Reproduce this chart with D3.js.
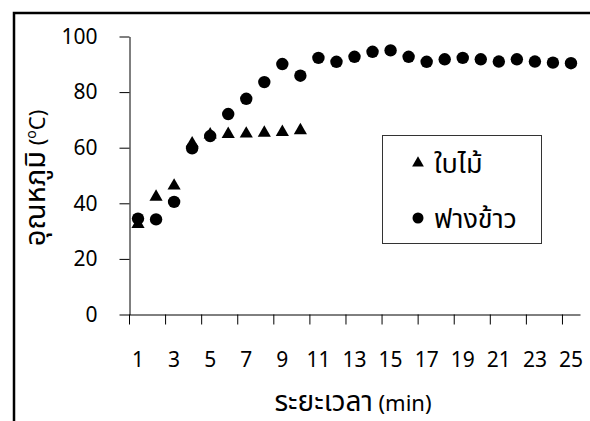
<!DOCTYPE html>
<html>
<head>
<meta charset="utf-8">
<script src="https://cdn.jsdelivr.net/npm/d3@7"></script>
<style>
  body { margin: 0; background: #fff; }
  svg text { font-family: Tahoma, "Noto Sans", "Noto Sans Thai", sans-serif; fill: #000; }
</style>
</head>
<body>
<div id="chart"></div>
<script>
// data
var minutes = d3.range(1, 26);
var leafMinutes = d3.range(1, 11);
var leafTemp = [32.5, 42.3, 46.3, 61.5, 64.7, 64.9, 65, 65.3, 65.6, 66.2];
var strawTemp = [34.5, 34.2, 40.5, 59.8, 64.2, 72.1, 77.6, 83.6, 90.1, 85.9,
                 92.3, 90.9, 92.7, 94.5, 95, 92.7, 90.9, 91.8, 92.3, 91.8,
                 91, 91.8, 91, 90.6, 90.4];
var yTicks = [0, 20, 40, 60, 80, 100];
var xLabels = d3.range(1, 26, 2);
var seriesNames = ["ใบไม้", "ฟางข้าว"];

var svgWidth = 590;
var svgHeight = 421;

var svg = d3.select("#chart")
  .append("svg")
  .attr("width", svgWidth)
  .attr("height", svgHeight);

// outer frame (runs off the right and bottom edges)
svg.append("rect")
  .attr("x", 14)
  .attr("y", 13)
  .attr("width", 600)
  .attr("height", 430)
  .attr("fill", "none")
  .attr("stroke", "#000")
  .attr("stroke-width", 2.5);

var x = d3.scaleBand()
  .domain(minutes)
  .range([129, 580]);

var y = d3.scaleLinear()
  .domain([0, 100])
  .range([314.5, 36.5]);

var bw = x.bandwidth();

// y axis
var leftAxis = d3.axisLeft(y)
  .tickValues(yTicks)
  .tickSize(10)
  .tickSizeOuter(0)
  .tickPadding(22);

var gy = svg.append("g")
  .attr("transform", "translate(129.5,0)")
  .call(leftAxis);
gy.selectAll("text").style("font-size", "21px");

// x axis: labels centred in the categories, ticks on the boundaries
var bottomAxis = d3.axisBottom(x)
  .tickValues(xLabels)
  .tickSize(0)
  .tickPadding(38);

var gx = svg.append("g")
  .attr("transform", "translate(0,314.5)")
  .call(bottomAxis);
gx.selectAll("text").style("font-size", "21px");

gx.selectAll(".boundary")
  .data(xLabels)
  .enter()
  .append("line")
  .attr("x1", d => x(d) + 0.5)
  .attr("x2", d => x(d) + 0.5)
  .attr("y1", 0)
  .attr("y2", 10)
  .attr("stroke", "#000");

svg.selectAll(".domain").attr("stroke", "#000");
svg.selectAll(".tick line").attr("stroke", "#000");

// points
var tri = d3.symbol().type(d3.symbolTriangle).size(75);

svg.selectAll(".leaf")
  .data(leafMinutes)
  .enter()
  .append("path")
  .attr("class", "leaf")
  .attr("d", tri)
  .attr("transform", (d, i) => `translate(${x(d) + bw / 2},${y(leafTemp[i])})`)
  .attr("fill", "#000");

svg.selectAll(".straw")
  .data(minutes)
  .enter()
  .append("circle")
  .attr("class", "straw")
  .attr("cx", d => x(d) + bw / 2)
  .attr("cy", (d, i) => y(strawTemp[i]))
  .attr("r", 6.2)
  .attr("fill", "#000");

// axis titles (Thai glyphs set a bit larger, as in the original font)
var yTitle = svg.append("text")
  .attr("transform", "translate(45,178) rotate(-90)")
  .attr("text-anchor", "middle");
yTitle.append("tspan").text("อุณหภูมิ").style("font-size", "29px");
yTitle.append("tspan").text("  (").style("font-size", "22px");
yTitle.append("tspan").text("o").style("font-size", "14px").attr("dy", "-9");
yTitle.append("tspan").text("C)").style("font-size", "22px").attr("dy", "9");

var xTitle = svg.append("text")
  .attr("x", 353)
  .attr("y", 411)
  .attr("text-anchor", "middle");
xTitle.append("tspan").text("ระยะเวลา").style("font-size", "28px");
xTitle.append("tspan").text(" (min)").style("font-size", "22px");

// legend
var legend = svg.append("g");
legend.append("rect")
  .attr("x", 382.5)
  .attr("y", 135.5)
  .attr("width", 159)
  .attr("height", 108)
  .attr("fill", "#fff")
  .attr("stroke", "#333");

legend.append("path")
  .attr("d", d3.symbol().type(d3.symbolTriangle).size(60))
  .attr("transform", "translate(418,163)")
  .attr("fill", "#000");
legend.append("circle")
  .attr("cx", 418)
  .attr("cy", 218)
  .attr("r", 5.5)
  .attr("fill", "#000");

legend.selectAll(".lt")
  .data(seriesNames)
  .enter()
  .append("text")
  .attr("x", 434)
  .attr("y", (d, i) => 173 + i * 55)
  .style("font-size", "27px")
  .text(d => d);
</script>
</body>
</html>
